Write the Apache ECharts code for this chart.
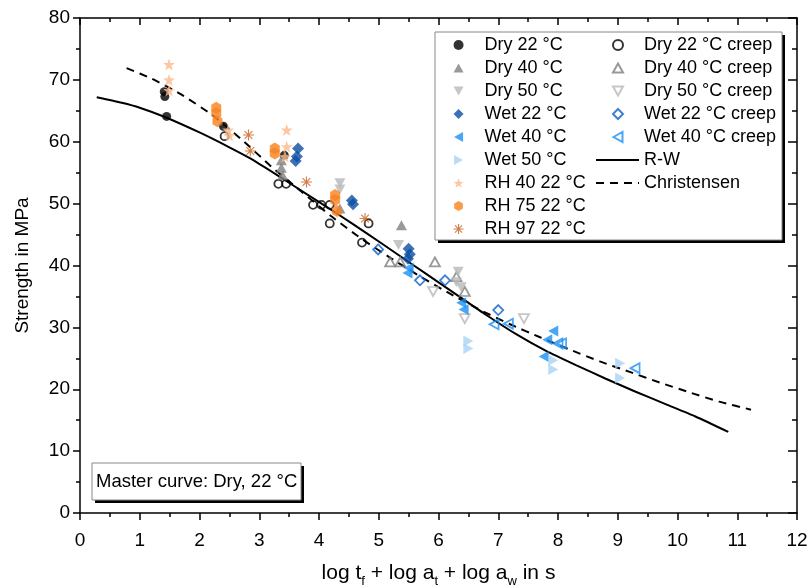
<!DOCTYPE html>
<html><head><meta charset="utf-8">
<script src="https://cdn.jsdelivr.net/npm/echarts@6/dist/echarts.min.js"></script>
<style>html,body{margin:0;padding:0;background:#fff}#c{width:811px;height:588px}</style>
</head><body><div id="c"></div>
<script>
// ---- data (x = log tf + log at + log aw, y = strength MPa) ----
const dry22   = [[1.41,68.1],[1.42,67.3],[1.45,64.1],[2.4,62.5],[3.42,57.8]];
const dry40   = [[3.37,57.0],[3.37,55.8],[3.39,54.6],[4.35,49.2],[5.38,46.5]];
const dry50   = [[4.35,53.3],[4.35,52.3],[5.33,43.3],[6.33,39.0],[6.3,37.3],[6.38,36.5]];
const wet22   = [[3.65,58.9],[3.63,57.6],[3.61,56.9],[4.55,50.5],[4.57,49.9],[5.5,42.7],[5.52,41.8],[5.49,41.1]];
const wet40   = [[5.5,39.6],[5.48,38.8],[6.38,34.0],[6.42,32.9],[7.92,29.4],[7.82,28.0],[7.76,25.3]];
const wet50   = [[6.5,27.8],[6.5,26.6],[7.92,24.7],[7.92,23.2],[9.04,24.2],[9.04,21.8]];
const rh40    = [[1.49,72.5],[1.49,70.0],[1.49,68.3],[2.48,61.9],[2.5,61.0],[3.46,61.9],[3.46,59.2],[3.43,57.6]];
const rh75    = [[2.28,65.5],[2.28,64.6],[2.3,63.3],[3.26,58.9],[3.26,58.1],[4.27,51.4],[4.27,50.6],[4.3,48.8]];
const rh97    = [[2.82,61.1],[2.85,58.5],[3.79,53.5],[4.77,47.6]];
const dry22c  = [[2.42,60.9],[3.32,53.2],[3.45,53.2],[3.9,49.8],[4.04,49.8],[4.18,49.8],[4.18,46.8],[4.83,46.8],[4.72,43.7]];
const dry40c  = [[5.19,40.6],[5.36,40.6],[5.94,40.6],[6.3,38.2],[6.44,35.8]];
const dry50c  = [[5.91,35.8],[6.44,31.4],[7.43,31.4]];
const wet22c  = [[4.99,42.6],[5.69,37.6],[6.11,37.6],[7.0,32.8]];
const wet40c  = [[6.93,30.5],[7.17,30.6],[8.0,27.4],[8.06,27.4],[9.29,23.4]];
const rwCurve = [[0.28,67.2],[0.7,66.3],[1.0,65.5],[1.42,64.0],[2.0,61.5],[2.5,59.1],[2.85,57.3],[3.3,54.6],[3.8,51.5],[4.3,48.4],[4.8,45.2],[5.3,41.9],[5.8,38.6],[6.3,35.3],[6.8,32.0],[7.3,28.9],[7.8,26.2],[8.3,23.9],[8.8,21.7],[9.3,19.6],[9.8,17.6],[10.3,15.6],[10.85,13.1]];
const chCurve = [[0.78,71.9],[1.2,70.2],[1.7,67.6],[2.2,64.4],[2.7,60.4],[3.2,56.0],[3.7,52.0],[4.2,48.0],[4.7,44.4],[5.2,41.2],[5.7,38.2],[6.2,35.4],[6.7,32.8],[7.2,30.5],[7.7,28.4],[8.2,26.4],[8.7,24.5],[9.2,22.8],[9.7,21.1],[10.2,19.5],[10.7,18.0],[11.23,16.7]];
const xTicks = [0,12,1];
const yTicks = [0,80,10];
const leftNames  = ['Dry 22 °C','Dry 40 °C','Dry 50 °C','Wet 22 °C','Wet 40 °C','Wet 50 °C','RH 40 22 °C','RH 75 22 °C','RH 97 22 °C'];
const rightNames = ['Dry 22 °C creep','Dry 40 °C creep','Dry 50 °C creep','Wet 22 °C creep','Wet 40 °C creep'];
const lineNames  = ['R-W','Christensen'];

const FONT = 'Arial, "Liberation Sans", sans-serif';
const STAR = 'path://M0,-10 L2.35,-3.24 L9.51,-3.09 L3.8,1.24 L5.88,8.09 L0,4 L-5.88,8.09 L-3.8,1.24 L-9.51,-3.09 L-2.35,-3.24 Z';
const HEX  = 'path://M0,-10 L8.66,-5 L8.66,5 L0,10 L-8.66,5 L-8.66,-5 Z';
const AST  = 'path://M0,-10 L0,10 M-10,0 L10,0 M-7.07,-7.07 L7.07,7.07 M-7.07,7.07 L7.07,-7.07';
const TUP  = 'path://M0,0 L10,18 L-10,18 Z';
const TDN  = 'path://M0,18 L10,0 L-10,0 Z';
const TLT  = 'path://M0,0 L18,-10 L18,10 Z';
const TRT  = 'path://M18,0 L0,-10 L0,10 Z';

const C = {dry22:'#000000',dry40:'#808080',dry50:'#b8b8b8',wet22:'#0b4fa3',wet40:'#1b8ef2',wet50:'#a9d3f7',rh40:'#fbba8c',rh75:'#f7821e',rh97:'#c85f1c',wet22c:'#1060c4'};

const SYM = {
  'Dry 22 °C':'circle','Dry 40 °C':TUP,'Dry 50 °C':TDN,'Wet 22 °C':'diamond',
  'Wet 40 °C':TLT,'Wet 50 °C':TRT,'RH 40 22 °C':STAR,'RH 75 22 °C':HEX,'RH 97 22 °C':AST,
  'Dry 22 °C creep':'circle','Dry 40 °C creep':TUP,'Dry 50 °C creep':TDN,
  'Wet 22 °C creep':'diamond','Wet 40 °C creep':TLT
};

function filled(name,data,size,color){
  return {type:'scatter',name,data,symbol:SYM[name],symbolSize:size,itemStyle:{color},z:3};
}
function open(name,data,size,color){
  return {type:'scatter',name,data,symbol:SYM[name],symbolSize:size,
    itemStyle:{color:'rgba(255,255,255,0)',borderColor:color,borderWidth:1.8},z:3};
}

const series = [
  {type:'line',name:'R-W',data:rwCurve,symbol:'none',showSymbol:false,smooth:0.2,lineStyle:{color:'#000',width:2},itemStyle:{color:'#000'},z:2},
  {type:'line',name:'Christensen',data:chCurve,symbol:'none',showSymbol:false,smooth:0.2,lineStyle:{color:'#000',width:2,type:[8,6]},itemStyle:{color:'#000'},z:2},
  open('Dry 22 °C creep',dry22c,8,C.dry22),
  open('Dry 40 °C creep',dry40c,[10,9],C.dry40),
  open('Dry 50 °C creep',dry50c,[10,9],C.dry50),
  open('Wet 22 °C creep',wet22c,10,C.wet22c),
  open('Wet 40 °C creep',wet40c,[9,10],C.wet40),
  filled('Dry 22 °C',dry22,9,C.dry22),
  filled('Dry 40 °C',dry40,[11,10],C.dry40),
  filled('Dry 50 °C',dry50,[11,10],C.dry50),
  filled('Wet 22 °C',wet22,12,C.wet22),
  filled('Wet 40 °C',wet40,[10,11],C.wet40),
  filled('Wet 50 °C',wet50,[10,11],C.wet50),
  filled('RH 75 22 °C',rh75,[10,12],C.rh75),
  filled('RH 40 22 °C',rh40,12,C.rh40),
  {type:'scatter',name:'RH 97 22 °C',data:rh97,symbol:AST,symbolSize:11,itemStyle:{color:'rgba(0,0,0,0)',borderColor:C.rh97,borderWidth:1.1},z:3}
];

function legendItem(n){
  const it = {name:n,icon:SYM[n]};
  if(n==='RH 97 22 °C') it.itemStyle={color:'rgba(0,0,0,0)',borderColor:C.rh97,borderWidth:1.1};
  return it;
}

const legendBase = {orient:'vertical',padding:0,itemGap:5,itemWidth:10,itemHeight:10,selectedMode:false,symbolKeepAspect:true,
  textStyle:{fontSize:18,fontFamily:FONT,color:'#000',lineHeight:18,padding:[0,0,0,16]}};

const axisLineStyle = {color:'#000',width:1.5};
const xName = '{a|log t}{b|f}{a| + log a}{b|t}{a| + log a}{b|w}{a| in s}';

const option = {
  animation:false,
  backgroundColor:'#fff',
  grid:{left:80,right:14,top:18,bottom:75,containLabel:false,outerBoundsMode:'none'},
  xAxis:[
    {type:'value',min:xTicks[0],max:xTicks[1],interval:xTicks[2],position:'bottom',
     axisLine:{show:true,onZero:false,lineStyle:axisLineStyle},
     axisTick:{show:true,length:7,lineStyle:axisLineStyle},
     minorTick:{show:true,splitNumber:2,length:4,lineStyle:axisLineStyle},
     axisLabel:{fontSize:19,color:'#000',margin:18,fontFamily:FONT},
     splitLine:{show:false},
     name:xName,nameLocation:'middle',nameGap:50,
     nameTextStyle:{color:'#000',fontFamily:FONT,rich:{
       a:{fontSize:21,fontFamily:FONT,color:'#000',verticalAlign:'bottom',padding:[0,0,4,0]},
       b:{fontSize:13,fontFamily:FONT,color:'#000',verticalAlign:'bottom'}}}},
    {type:'value',min:xTicks[0],max:xTicks[1],interval:xTicks[2],position:'top',
     axisLine:{show:true,onZero:false,lineStyle:axisLineStyle},
     axisTick:{show:true,inside:true,length:7,lineStyle:axisLineStyle},
     minorTick:{show:true,splitNumber:2,length:4,lineStyle:axisLineStyle},
     axisLabel:{show:false},splitLine:{show:false}}
  ],
  yAxis:[
    {type:'value',min:yTicks[0],max:yTicks[1],interval:yTicks[2],position:'left',
     axisLine:{show:true,onZero:false,lineStyle:axisLineStyle},
     axisTick:{show:true,length:7,lineStyle:axisLineStyle},
     minorTick:{show:true,splitNumber:2,length:4,lineStyle:axisLineStyle},
     axisLabel:{fontSize:19,color:'#000',margin:10,fontFamily:FONT},
     splitLine:{show:false},
     name:'Strength in MPa',nameLocation:'middle',nameGap:48,
     nameTextStyle:{fontSize:19,color:'#000',fontFamily:FONT}},
    {type:'value',min:yTicks[0],max:yTicks[1],interval:yTicks[2],position:'right',
     axisLine:{show:true,onZero:false,lineStyle:axisLineStyle},
     axisTick:{show:true,inside:true,length:9,lineStyle:axisLineStyle},
     minorTick:{show:true,splitNumber:2,length:5,lineStyle:axisLineStyle},
     axisLabel:{show:false},splitLine:{show:false}}
  ],
  legend:[
    Object.assign({},legendBase,{left:453,top:36,data:leftNames.map(legendItem)}),
    Object.assign({},legendBase,{left:612,top:36,data:rightNames.map(legendItem)}),
    Object.assign({},legendBase,{left:595,top:36+5*23,itemWidth:43,itemHeight:12,data:lineNames,
      itemStyle:{opacity:0},
      textStyle:{fontSize:18,fontFamily:FONT,color:'#000',lineHeight:18,padding:[0,0,0,0]}})
  ],
  graphic:[
    {type:'rect',shape:{x:438,y:35,width:347,height:208},style:{fill:'#000'},z:1},
    {type:'rect',shape:{x:435,y:32,width:347,height:208},style:{fill:'#fff',stroke:'#888',lineWidth:1},z:1},
    {type:'rect',shape:{x:95,y:466,width:209,height:37},style:{fill:'#000'},z:1},
    {type:'rect',shape:{x:92,y:463,width:209,height:37},style:{fill:'#fff',stroke:'#888',lineWidth:1},z:1},
    {type:'text',x:96,y:482,style:{text:'Master curve: Dry, 22 °C',fontSize:18.5,fontFamily:FONT,fill:'#000',verticalAlign:'middle'},z:2}
  ],
  series
};
const chart = echarts.init(document.getElementById('c'),null,{renderer:'canvas'});
chart.setOption(option);
</script></body></html>
